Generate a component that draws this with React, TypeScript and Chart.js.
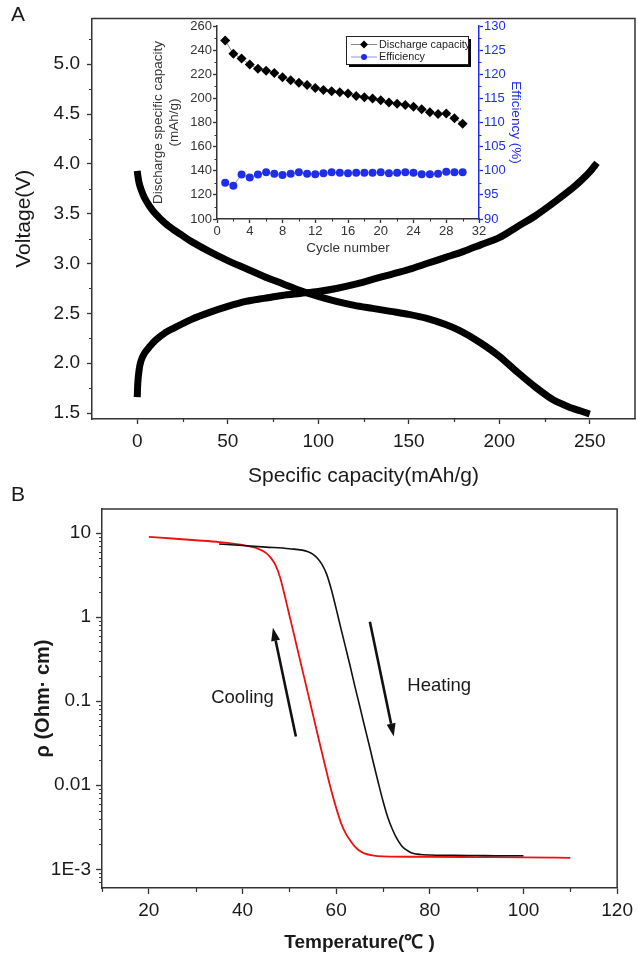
import React, { useEffect, useRef } from "react";
import { Chart, registerables } from "chart.js";

Chart.register(...registerables);

const FONT = "'Liberation Sans', Arial, Helvetica, sans-serif";

// ---------- Panel A: charge / discharge curves ----------
const DIS_CAP = [0, 0.5, 1, 2, 4, 7, 10, 15, 20, 25, 30, 40, 50, 60, 70, 80, 90, 100, 110, 120, 130, 140, 150, 160, 170, 180, 190, 200, 210, 220, 230, 240, 245, 250];
const DIS_V = [3.93, 3.86, 3.81, 3.75, 3.66, 3.57, 3.5, 3.41, 3.34, 3.28, 3.22, 3.12, 3.03, 2.95, 2.87, 2.8, 2.73, 2.67, 2.62, 2.58, 2.55, 2.52, 2.49, 2.45, 2.39, 2.31, 2.2, 2.07, 1.91, 1.76, 1.63, 1.55, 1.52, 1.49];
const CHG_CAP = [0, 0.3, 1, 2, 4, 7, 10, 15, 20, 30, 40, 50, 60, 70, 80, 90, 100, 110, 120, 130, 140, 150, 160, 170, 180, 190, 200, 210, 220, 230, 240, 245, 250, 254];
const CHG_V = [1.66, 1.8, 1.93, 2.02, 2.1, 2.17, 2.23, 2.3, 2.35, 2.44, 2.51, 2.57, 2.62, 2.65, 2.68, 2.7, 2.72, 2.75, 2.79, 2.84, 2.89, 2.94, 3.0, 3.06, 3.12, 3.19, 3.26, 3.37, 3.48, 3.61, 3.75, 3.83, 3.92, 4.01];
const A_X_TICKS = [0, 50, 100, 150, 200, 250];
const A_X_MINOR = [25, 75, 125, 175, 225];
const A_Y_TICKS = [1.5, 2.0, 2.5, 3.0, 3.5, 4.0, 4.5, 5.0];
const A_Y_LABELS = ["1.5", "2.0", "2.5", "3.0", "3.5", "4.0", "4.5", "5.0"];
const A_Y_MINOR = [1.75, 2.25, 2.75, 3.25, 3.75, 4.25, 4.75, 5.25];

// ---------- Inset: cycling ----------
const CYCLES = [1, 2, 3, 4, 5, 6, 7, 8, 9, 10, 11, 12, 13, 14, 15, 16, 17, 18, 19, 20, 21, 22, 23, 24, 25, 26, 27, 28, 29, 30];
const DIS_CAPACITY = [248, 237, 233, 228, 224.5, 223, 221, 217.5, 215, 213, 211, 208.5, 207, 206, 205, 204, 202, 201, 200, 198.5, 196.5, 195.5, 194.5, 193, 191, 188.5, 187, 187.5, 183.5, 179];
const EFFICIENCY = [97.5, 96.9, 99.2, 98.6, 99.2, 99.7, 99.4, 99.1, 99.4, 99.7, 99.4, 99.3, 99.5, 99.7, 99.6, 99.5, 99.6, 99.6, 99.6, 99.7, 99.5, 99.6, 99.7, 99.6, 99.3, 99.3, 99.4, 99.8, 99.7, 99.7];
const IN_X_TICKS = [0, 4, 8, 12, 16, 20, 24, 28, 32];
const IN_X_MINOR = [2, 6, 10, 14, 18, 22, 26, 30];
const IN_Y_TICKS = [100, 120, 140, 160, 180, 200, 220, 240, 260];
const IN_Y_MINOR = [110, 130, 150, 170, 190, 210, 230, 250];
const IN_Y2_TICKS = [90, 95, 100, 105, 110, 115, 120, 125, 130];
const IN_Y2_MINOR = [92.5, 97.5, 102.5, 107.5, 112.5, 117.5, 122.5, 127.5];

// ---------- Panel B: resistivity vs temperature ----------
const T_COOL = [20, 25, 30, 35, 40, 43, 45, 46, 47, 48, 49, 50, 51, 52, 53, 54, 55, 56, 57, 58, 59, 60, 61, 62, 63, 64, 65, 66, 68, 70, 80, 90, 100, 110];
const RHO_COOL = [9.0, 8.6, 8.2, 7.8, 7.2, 6.6, 5.8, 5.1, 4.2, 3.0, 1.82, 1.06, 0.62, 0.36, 0.21, 0.122, 0.071, 0.041, 0.024, 0.0141, 0.0085, 0.0054, 0.0036, 0.0027, 0.0022, 0.00186, 0.00166, 0.00155, 0.00146, 0.00143, 0.00141, 0.0014, 0.00139, 0.00137];
const T_HEAT = [35, 40, 45, 50, 54, 55, 56, 57, 58, 59, 60, 61, 62, 63, 64, 65, 66, 67, 68, 69, 70, 71, 72, 73, 74, 75, 76, 78, 80, 85, 90, 95, 100];
const RHO_HEAT = [7.4, 7.1, 6.8, 6.5, 6.0, 5.6, 5.0, 4.2, 3.2, 2.1, 1.26, 0.74, 0.44, 0.26, 0.15, 0.089, 0.052, 0.031, 0.018, 0.0107, 0.0065, 0.0042, 0.003, 0.0023, 0.0019, 0.0017, 0.00158, 0.0015, 0.00148, 0.00147, 0.00146, 0.00145, 0.00145];
const B_X_TICKS = [20, 40, 60, 80, 100, 120];
const B_X_MINOR = [10, 30, 50, 70, 90, 110];
const B_Y_TICKS = [0.001, 0.01, 0.1, 1, 10];
const B_Y_LABELS = ["1E-3", "0.01", "0.1", "1", "10"];
const B_NOTES = [
  { text: "Cooling", t: 40, rho: 0.11 },
  { text: "Heating", t: 82, rho: 0.153 },
];
const B_ARROWS = [
  { t0: 51.4, r0: 0.038, t1: 46.5, r1: 0.745 },
  { t0: 67.2, r0: 0.88, t1: 72.3, r1: 0.038 },
];

const zip = (xs: number[], ys: number[]) => xs.map((x, i) => ({ x, y: ys[i] }));

function logMinors(min: number, max: number) {
  const out: number[] = [];
  for (let d = -5; d <= 2; d++) {
    for (let k = 2; k <= 9; k++) {
      const v = k * Math.pow(10, d);
      if (v >= min && v <= max) out.push(v);
    }
  }
  return out;
}

type MinorSpec = { axis: string; values: number[]; len: number; color: string; width: number };

function minorTicks(id: string, specs: MinorSpec[]) {
  return {
    id,
    afterDraw(chart: any) {
      const ctx = chart.ctx;
      ctx.save();
      for (const s of specs) {
        const sc = chart.scales[s.axis];
        if (!sc) continue;
        ctx.strokeStyle = s.color;
        ctx.lineWidth = s.width;
        ctx.beginPath();
        for (const v of s.values) {
          if (v < sc.min - 1e-12 || v > sc.max + 1e-12) continue;
          const p = Math.round(sc.getPixelForValue(v)) + 0.5;
          if (sc.position === "bottom") {
            ctx.moveTo(p, sc.top);
            ctx.lineTo(p, sc.top + s.len);
          } else if (sc.position === "left") {
            ctx.moveTo(sc.right, p);
            ctx.lineTo(sc.right - s.len, p);
          } else {
            ctx.moveTo(sc.left, p);
            ctx.lineTo(sc.left + s.len, p);
          }
        }
        ctx.stroke();
      }
      ctx.restore();
    },
  };
}

function frame(id: string, color: string, width: number) {
  return {
    id,
    afterDraw(chart: any) {
      const { left, right, top, bottom } = chart.chartArea;
      const ctx = chart.ctx;
      ctx.save();
      ctx.strokeStyle = color;
      ctx.lineWidth = width;
      ctx.beginPath();
      ctx.moveTo(left, top);
      ctx.lineTo(right, top);
      ctx.lineTo(right, bottom);
      ctx.stroke();
      ctx.restore();
    },
  };
}

const axisBase = (tickLen: number, color: string) => ({
  grid: { display: true, drawOnChartArea: false, drawTicks: true, tickLength: tickLen, tickColor: color, tickWidth: 1.3 },
  border: { display: true, color, width: 1.5 },
});

function configA(): any {
  return {
    type: "line",
    data: {
      datasets: [
        { label: "discharge", data: zip(DIS_CAP, DIS_V), borderColor: "#000", borderWidth: 7, pointRadius: 0, tension: 0.3, borderCapStyle: "butt", fill: false },
        { label: "charge", data: zip(CHG_CAP, CHG_V), borderColor: "#000", borderWidth: 7, pointRadius: 0, tension: 0.3, borderCapStyle: "butt", fill: false },
      ],
    },
    options: {
      animation: false,
      responsive: false,
      maintainAspectRatio: false,
      layout: { padding: { left: 0, right: 3, top: 15, bottom: 0 } },
      plugins: { legend: { display: false }, tooltip: { enabled: false } },
      scales: {
        x: {
          type: "linear",
          min: -25,
          max: 275,
          afterBuildTicks: (s: any) => { s.ticks = A_X_TICKS.map((v) => ({ value: v })); },
          afterFit: (s: any) => { s.height = 71; },
          ticks: { font: { family: FONT, size: 19 }, color: "#1a1a1a", padding: 6, maxRotation: 0, autoSkip: false, callback: (v: any) => String(v) },
          ...axisBase(5, "#333"),
          title: { display: true, text: "Specific capacity(mAh/g)", font: { family: FONT, size: 21 }, color: "#1a1a1a", padding: { top: 0, bottom: 1 } },
        },
        y: {
          type: "linear",
          min: 1.44,
          max: 5.46,
          afterBuildTicks: (s: any) => { s.ticks = A_Y_TICKS.map((v) => ({ value: v })); },
          afterFit: (s: any) => { s.width = 92; },
          ticks: { font: { family: FONT, size: 19 }, color: "#1a1a1a", padding: 7, autoSkip: false, callback: (_v: any, i: number) => A_Y_LABELS[i] },
          ...axisBase(5, "#333"),
          title: { display: true, text: "Voltage(V)", font: { family: FONT, size: 21 }, color: "#1a1a1a", padding: { top: 12, bottom: 0 } },
        },
      },
    },
    plugins: [
      frame("frameA", "#333", 1.5),
      minorTicks("minorA", [
        { axis: "x", values: A_X_MINOR, len: 3, color: "#333", width: 1.2 },
        { axis: "y", values: A_Y_MINOR, len: 3, color: "#333", width: 1.2 },
      ]),
    ],
  };
}

const BLUE = "#1f2ee8";

const insetLegend = {
  id: "insetLegend",
  afterDraw(chart: any) {
    const ctx = chart.ctx;
    const ca = chart.chartArea;
    const w = 122;
    const h = 28;
    const x0 = ca.right - 133;
    const y0 = ca.top + 10;
    ctx.save();
    ctx.fillStyle = "#000";
    ctx.fillRect(x0 + 3, y0 + 3, w, h);
    ctx.fillStyle = "#fff";
    ctx.fillRect(x0, y0, w, h);
    ctx.strokeStyle = "#222";
    ctx.lineWidth = 1;
    ctx.strokeRect(x0 + 0.5, y0 + 0.5, w, h);
    const rows = [y0 + 8.5, y0 + 21];
    chart.data.datasets.forEach((ds: any, i: number) => {
      const y = rows[i];
      ctx.strokeStyle = i === 0 ? "#888" : "#8a90f0";
      ctx.lineWidth = 1;
      ctx.beginPath();
      ctx.moveTo(x0 + 5, y);
      ctx.lineTo(x0 + 31, y);
      ctx.stroke();
      ctx.fillStyle = i === 0 ? "#000" : BLUE;
      ctx.beginPath();
      if (i === 0) {
        const r = 4;
        ctx.moveTo(x0 + 18, y - r);
        ctx.lineTo(x0 + 18 + r, y);
        ctx.lineTo(x0 + 18, y + r);
        ctx.lineTo(x0 + 18 - r, y);
        ctx.closePath();
      } else {
        ctx.arc(x0 + 18, y, 3, 0, Math.PI * 2);
      }
      ctx.fill();
      ctx.fillStyle = "#222";
      ctx.font = `10.8px ${FONT}`;
      ctx.textBaseline = "middle";
      ctx.textAlign = "left";
      ctx.fillText(ds.label, x0 + 33, y + 0.5);
    });
    ctx.restore();
  },
};

function configInset(): any {
  return {
    type: "line",
    data: {
      datasets: [
        {
          label: "Discharge capacity",
          data: zip(CYCLES, DIS_CAPACITY),
          yAxisID: "y",
          borderColor: "#888",
          borderWidth: 1,
          pointStyle: "rectRot",
          pointRadius: 5,
          pointBackgroundColor: "#000",
          pointBorderColor: "#000",
          pointBorderWidth: 0,
          tension: 0,
        },
        {
          label: "Efficiency",
          data: zip(CYCLES, EFFICIENCY),
          yAxisID: "y1",
          borderColor: "#8a90f0",
          borderWidth: 1,
          pointStyle: "circle",
          pointRadius: 4,
          pointBackgroundColor: BLUE,
          pointBorderColor: BLUE,
          pointBorderWidth: 0,
          tension: 0,
        },
      ],
    },
    options: {
      animation: false,
      responsive: false,
      maintainAspectRatio: false,
      layout: { padding: { left: 0, right: 0, top: 16, bottom: 0 } },
      plugins: { legend: { display: false }, tooltip: { enabled: false } },
      scales: {
        x: {
          type: "linear",
          min: 0,
          max: 32,
          afterBuildTicks: (s: any) => { s.ticks = IN_X_TICKS.map((v) => ({ value: v })); },
          afterFit: (s: any) => { s.height = 51; },
          ticks: { font: { family: FONT, size: 13 }, color: "#333", padding: 1, maxRotation: 0, autoSkip: false, callback: (v: any) => String(v) },
          ...axisBase(4, "#333"),
          title: { display: true, text: "Cycle number", font: { family: FONT, size: 13.5 }, color: "#333", padding: { top: 0, bottom: 14 } },
        },
        y: {
          type: "linear",
          position: "left",
          min: 100,
          max: 260,
          afterBuildTicks: (s: any) => { s.ticks = IN_Y_TICKS.map((v) => ({ value: v })); },
          afterFit: (s: any) => { s.width = 77; },
          ticks: { font: { family: FONT, size: 13 }, color: "#333", padding: 1, autoSkip: false, callback: (v: any) => String(v) },
          ...axisBase(4, "#333"),
          title: { display: true, text: ["Discharge specific capacity", "(mAh/g)"], font: { family: FONT, size: 13.5 }, color: "#333", padding: { top: 10, bottom: 0 } },
        },
        y1: {
          type: "linear",
          position: "right",
          min: 90,
          max: 130,
          afterBuildTicks: (s: any) => { s.ticks = IN_Y2_TICKS.map((v) => ({ value: v })); },
          afterFit: (s: any) => { s.width = 61; },
          ticks: { font: { family: FONT, size: 13 }, color: BLUE, padding: 1, autoSkip: false, callback: (v: any) => String(v) },
          ...axisBase(4, BLUE),
          title: { display: true, text: "Efficiency (%)", font: { family: FONT, size: 13.5 }, color: BLUE, padding: { top: 16, bottom: 0 } },
        },
      },
    },
    plugins: [
      minorTicks("minorIn", [
        { axis: "x", values: IN_X_MINOR, len: 2.5, color: "#333", width: 1 },
        { axis: "y", values: IN_Y_MINOR, len: 2.5, color: "#333", width: 1 },
        { axis: "y1", values: IN_Y2_MINOR, len: 2.5, color: BLUE, width: 1 },
      ]),
      insetLegend,
    ],
  };
}

const notesB = {
  id: "notesB",
  afterDatasetsDraw(chart: any) {
    const ctx = chart.ctx;
    const xs = chart.scales.x;
    const ys = chart.scales.y;
    ctx.save();
    ctx.fillStyle = "#1a1a1a";
    ctx.font = `18.5px ${FONT}`;
    ctx.textAlign = "center";
    ctx.textBaseline = "middle";
    for (const n of B_NOTES) {
      ctx.fillText(n.text, xs.getPixelForValue(n.t), ys.getPixelForValue(n.rho));
    }
    ctx.strokeStyle = "#111";
    ctx.fillStyle = "#111";
    ctx.lineWidth = 2.6;
    for (const a of B_ARROWS) {
      const x0 = xs.getPixelForValue(a.t0);
      const y0 = ys.getPixelForValue(a.r0);
      const x1 = xs.getPixelForValue(a.t1);
      const y1 = ys.getPixelForValue(a.r1);
      const ang = Math.atan2(y1 - y0, x1 - x0);
      const hl = 13;
      const hw = 4.5;
      const bx = x1 - Math.cos(ang) * hl;
      const by = y1 - Math.sin(ang) * hl;
      ctx.beginPath();
      ctx.moveTo(x0, y0);
      ctx.lineTo(bx, by);
      ctx.stroke();
      ctx.beginPath();
      ctx.moveTo(x1, y1);
      ctx.lineTo(bx - Math.sin(ang) * hw, by + Math.cos(ang) * hw);
      ctx.lineTo(bx + Math.sin(ang) * hw, by - Math.cos(ang) * hw);
      ctx.closePath();
      ctx.fill();
    }
    ctx.restore();
  },
};

const B_MIN = 6.1e-4;
const B_MAX = 19.3;

function configB(): any {
  return {
    type: "line",
    data: {
      datasets: [
        { label: "Heating", data: zip(T_HEAT, RHO_HEAT), borderColor: "#111", borderWidth: 1.6, pointRadius: 0, cubicInterpolationMode: "monotone", fill: false },
        { label: "Cooling", data: zip(T_COOL, RHO_COOL), borderColor: "#ee1111", borderWidth: 1.8, pointRadius: 0, cubicInterpolationMode: "monotone", fill: false },
      ],
    },
    options: {
      animation: false,
      responsive: false,
      maintainAspectRatio: false,
      layout: { padding: { left: 0, right: 15, top: 19, bottom: 0 } },
      plugins: { legend: { display: false }, tooltip: { enabled: false } },
      scales: {
        x: {
          type: "linear",
          min: 10,
          max: 120,
          afterBuildTicks: (s: any) => { s.ticks = B_X_TICKS.map((v) => ({ value: v })); },
          afterFit: (s: any) => { s.height = 66; },
          ticks: { font: { family: FONT, size: 19 }, color: "#1a1a1a", padding: 5, maxRotation: 0, autoSkip: false, callback: (v: any) => String(v) },
          ...axisBase(6, "#333"),
          title: { display: true, text: "Temperature(℃ )", font: { family: FONT, size: 19, weight: "bold" }, color: "#1a1a1a", padding: { top: 0, bottom: 0 } },
        },
        y: {
          type: "logarithmic",
          min: B_MIN,
          max: B_MAX,
          afterBuildTicks: (s: any) => { s.ticks = B_Y_TICKS.map((v) => ({ value: v })); },
          afterFit: (s: any) => { s.width = 102; },
          ticks: { font: { family: FONT, size: 19 }, color: "#1a1a1a", padding: 5, autoSkip: false, callback: (_v: any, i: number) => B_Y_LABELS[i] },
          ...axisBase(6, "#333"),
          title: { display: true, text: "ρ (Ohm· cm)", font: { family: FONT, size: 20, weight: "bold" }, color: "#1a1a1a", padding: { top: 31, bottom: 0 } },
        },
      },
    },
    plugins: [
      frame("frameB", "#333", 1.5),
      minorTicks("minorB", [
        { axis: "x", values: B_X_MINOR, len: 4, color: "#333", width: 1.2 },
        { axis: "y", values: logMinors(B_MIN, B_MAX), len: 3, color: "#333", width: 1 },
      ]),
      notesB,
    ],
  };
}

export default function App() {
  const aRef = useRef<HTMLCanvasElement>(null);
  const iRef = useRef<HTMLCanvasElement>(null);
  const bRef = useRef<HTMLCanvasElement>(null);

  useEffect(() => {
    const charts = [
      new Chart(aRef.current as HTMLCanvasElement, configA()),
      new Chart(iRef.current as HTMLCanvasElement, configInset()),
      new Chart(bRef.current as HTMLCanvasElement, configB()),
    ];
    return () => charts.forEach((c) => c.destroy());
  }, []);

  const labelStyle: React.CSSProperties = {
    position: "absolute",
    left: 11,
    fontFamily: FONT,
    fontSize: 21,
    lineHeight: "21px",
    color: "#1a1a1a",
  };

  return (
    <div style={{ position: "absolute", left: 0, top: 0, width: 638, height: 954, background: "#fff", overflow: "hidden" }}>
      <canvas ref={aRef} width={638} height={490} style={{ position: "absolute", left: 0, top: 0, width: 638, height: 490 }} />
      <canvas ref={iRef} width={400} height={260} style={{ position: "absolute", left: 140, top: 10, width: 400, height: 260 }} />
      <canvas ref={bRef} width={638} height={464} style={{ position: "absolute", left: 0, top: 490, width: 638, height: 464 }} />
      <div style={{ ...labelStyle, top: 3 }}>A</div>
      <div style={{ ...labelStyle, top: 483 }}>B</div>
    </div>
  );
}
